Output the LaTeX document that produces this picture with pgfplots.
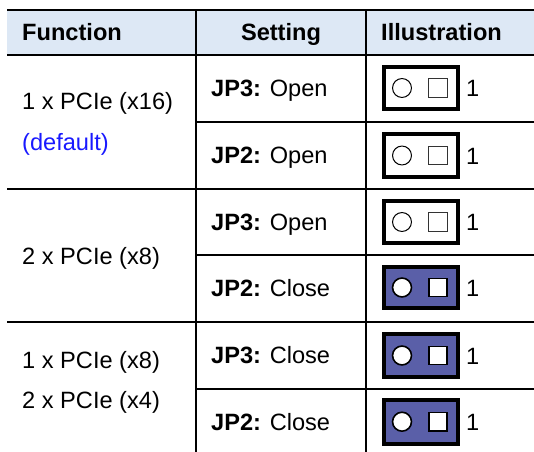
\documentclass[border=0pt]{standalone}
\usepackage{pgfplots}
\pgfplotsset{compat=1.18}
\usepackage{fontspec}
\setmainfont{Liberation Sans}
\definecolor{hdr}{RGB}{221,232,245}
\definecolor{jfill}{RGB}{90,95,168}
\definecolor{defblue}{RGB}{25,25,255}
\newcommand\tf{\fontsize{23.6bp}{27bp}\selectfont}
\begin{document}
\begin{tikzpicture}
\begin{axis}[width=534bp,height=452bp,scale only axis,
  xmin=0,xmax=534,ymin=0,ymax=452,y dir=reverse,hide axis,clip=false]
% header band
\fill[hdr] (axis cs:7,10) rectangle (axis cs:534,55);
% horizontal rules
\draw[line width=2bp] (axis cs:7,10) -- (axis cs:534,10);
\draw[line width=1.8bp] (axis cs:7,55) -- (axis cs:534,55);
\draw[line width=1.6bp] (axis cs:196,122) -- (axis cs:534,122);
\draw[line width=1.6bp] (axis cs:7,189) -- (axis cs:534,189);
\draw[line width=1.6bp] (axis cs:196,255) -- (axis cs:534,255);
\draw[line width=1.6bp] (axis cs:7,322) -- (axis cs:534,322);
\draw[line width=1.6bp] (axis cs:196,389) -- (axis cs:534,389);
% vertical rules
\draw[line width=1.6bp] (axis cs:196,10) -- (axis cs:196,452);
\draw[line width=1.6bp] (axis cs:366,10) -- (axis cs:366,452);
% header text
\node[font=\tf\bfseries,anchor=base west,inner sep=0] at (axis cs:22,40.7) {Function};
\node[font=\tf\bfseries,anchor=base,inner sep=0] at (axis cs:281,40.7) {Setting};
\node[font=\tf\bfseries,anchor=base west,inner sep=0] at (axis cs:381,40.7) {Illustration};
% function column
\node[font=\tf,anchor=base west,inner sep=0] at (axis cs:22,110) {1 x PCIe (x16)};
\node[font=\tf,anchor=base west,inner sep=0,text=defblue] at (axis cs:22,150) {(default)};
\node[font=\tf,anchor=base west,inner sep=0] at (axis cs:22,264.3) {2 x PCIe (x8)};
\node[font=\tf,anchor=base west,inner sep=0] at (axis cs:22,368) {1 x PCIe (x8)};
\node[font=\tf,anchor=base west,inner sep=0] at (axis cs:22,408) {2 x PCIe (x4)};
% setting column
\node[font=\tf,anchor=base west,inner sep=0] at (axis cs:211,96.7) {\textbf{JP3:} Open};
\node[font=\tf,anchor=base west,inner sep=0] at (axis cs:211,163.7) {\textbf{JP2:} Open};
\node[font=\tf,anchor=base west,inner sep=0] at (axis cs:211,230.2) {\textbf{JP3:} Open};
\node[font=\tf,anchor=base west,inner sep=0] at (axis cs:211,296.7) {\textbf{JP2:} Close};
\node[font=\tf,anchor=base west,inner sep=0] at (axis cs:211,363.7) {\textbf{JP3:} Close};
\node[font=\tf,anchor=base west,inner sep=0] at (axis cs:211,430.2) {\textbf{JP2:} Close};
% jumper boxes
\draw[line width=4bp,fill=white] (axis cs:384,67) rectangle (axis cs:458,109);
\draw[line width=4bp,fill=white] (axis cs:384,134) rectangle (axis cs:458,177);
\draw[line width=4bp,fill=white] (axis cs:384,201) rectangle (axis cs:458,243);
\draw[line width=4bp,fill=jfill] (axis cs:384,266.5) rectangle (axis cs:458,308);
\draw[line width=4bp,fill=jfill] (axis cs:384,334) rectangle (axis cs:458,377);
\draw[line width=4bp,fill=jfill] (axis cs:384,400) rectangle (axis cs:458,443.5);
% pins: open jumpers
\addplot[only marks,mark=*,mark size=9.5,mark options={fill=white,draw=black,line width=1bp}]
  coordinates {(402,88) (402,155.5) (402,222)};
\addplot[only marks,mark=square*,mark size=9.2,mark options={fill=white,draw=black!80,line width=1bp}]
  coordinates {(438,88) (438,155.5) (438,222)};
% pins: closed jumpers
\addplot[only marks,mark=*,mark size=9.5,mark options={fill=white,draw=black,line width=1.6bp}]
  coordinates {(402,287.5) (402,355.5) (402,421.7)};
\addplot[only marks,mark=square*,mark size=9.2,mark options={fill=white,draw=black,line width=1.4bp}]
  coordinates {(438,287.5) (438,355.5) (438,421.7)};
% pin-1 labels
\node[font=\tf,anchor=base west,inner sep=0] at (axis cs:466,97) {1};
\node[font=\tf,anchor=base west,inner sep=0] at (axis cs:466,164) {1};
\node[font=\tf,anchor=base west,inner sep=0] at (axis cs:466,230.5) {1};
\node[font=\tf,anchor=base west,inner sep=0] at (axis cs:466,296) {1};
\node[font=\tf,anchor=base west,inner sep=0] at (axis cs:466,364) {1};
\node[font=\tf,anchor=base west,inner sep=0] at (axis cs:466,430) {1};
\end{axis}
\pgfresetboundingbox
\path (current axis.south west) rectangle (current axis.north east);
\end{tikzpicture}
\end{document}
